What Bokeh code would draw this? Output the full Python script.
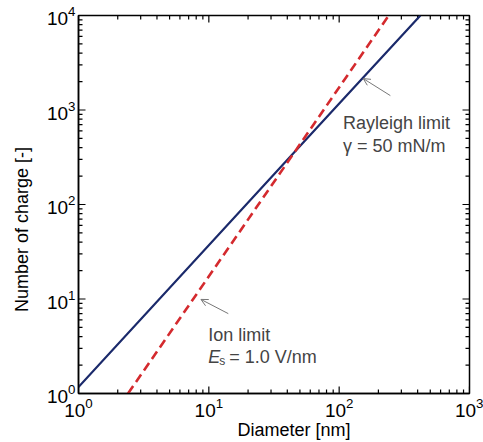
import math
from bokeh.plotting import figure
from bokeh.models import Arrow, OpenHead, Label, Range1d
from bokeh.embed import file_html
from bokeh.resources import INLINE

# ---- data ----
rayleigh_d = [1.0, 46.0, 420.0]        # diameter [nm]
rayleigh_q = [1.17, 365.0, 10000.0]    # number of charge
ion_d = [2.4, 46.0, 240.0]
ion_q = [1.0, 367.0, 10000.0]

x_limits = [1.0, 1000.0]
y_limits = [1.0, 10000.0]
x_major = [1, 10, 100, 1000]
y_major = [1, 10, 100, 1000, 10000]
x_minor = [k * d for d in x_major[:-1] for k in range(2, 10)]
y_minor = [k * d for d in y_major[:-1] for k in range(2, 10)]

x_title = "Diameter [nm]"
y_title = "Number of charge [-]"

FONT = "Liberation Sans"
FS = "18px"
TICK_FS = "19px"
NBSP = "\u00a0"

p = figure(width=483, height=442, x_axis_type="log", y_axis_type="log",
           x_range=Range1d(*x_limits), y_range=Range1d(*y_limits),
           output_backend="svg", toolbar_location=None,
           min_border_left=78, min_border_top=15, min_border_right=14,
           min_border_bottom=49)
p.xgrid.visible = False
p.ygrid.visible = False
p.outline_line_color = "black"
p.outline_line_width = 1.5

for ax in (p.xaxis[0], p.yaxis[0]):
    ax.axis_line_color = "black"
    ax.axis_line_width = 1.5
    ax.major_tick_in = 0
    ax.major_tick_out = 0
    ax.minor_tick_in = 0
    ax.minor_tick_out = 0
    ax.major_label_text_font = FONT
    ax.major_label_text_font_size = TICK_FS
    ax.major_label_text_color = "black"
    ax.axis_label_text_font = FONT
    ax.axis_label_text_font_size = FS
    ax.axis_label_text_font_style = "normal"
    ax.axis_label_text_color = "black"
p.yaxis[0].major_label_standoff = 3
p.xaxis[0].major_label_standoff = 4
# the reference's titles sit a little off-centre: pad with no-break spaces
p.xaxis[0].axis_label = NBSP * 8 + x_title
p.yaxis[0].axis_label = y_title + NBSP * 10
p.xaxis[0].axis_label_standoff = 0
p.yaxis[0].axis_label_standoff = 12

# inward ticks on all four sides (markers centred on the frame edge, clipped)
tick_kw = dict(marker="dash", line_color="black", line_width=1.2)
for xs, sz in ((x_major, 14), (x_minor, 8)):
    for yv in y_limits:
        p.scatter(xs, [yv] * len(xs), size=sz, angle=math.pi / 2, **tick_kw)
for ys, sz in ((y_major, 14), (y_minor, 8)):
    for xv in x_limits:
        p.scatter([xv] * len(ys), ys, size=sz, angle=0, **tick_kw)

p.line(rayleigh_d, rayleigh_q, line_color="#1b2a6b", line_width=2.2)
p.line(ion_d, ion_q, line_color="#d42a2e", line_width=2.6, line_dash="9 5")

arrow_col = "#777777"
p.add_layout(Arrow(end=OpenHead(size=7, line_color=arrow_col, line_width=1),
                   x_start=247, y_start=1420, x_end=153, y_end=2150,
                   line_color=arrow_col, line_width=1))
p.add_layout(Arrow(end=OpenHead(size=7, line_color=arrow_col, line_width=1),
                   x_start=14.1, y_start=7.0, x_end=8.7, y_end=9.9,
                   line_color=arrow_col, line_width=1))

p.add_layout(Label(x=107, y=724, text="Rayleigh  limit", text_font=FONT,
                   text_font_size=FS, text_baseline="alphabetic"))
p.add_layout(Label(x=107, y=421, text="\u03b3 = 50 mN/m", text_font=FONT,
                   text_font_size=FS, text_baseline="alphabetic"))

p.add_layout(Label(x=9.9, y=4.11, text="Ion limit", text_font=FONT,
                   text_font_size=FS, text_baseline="alphabetic"))
p.add_layout(Label(x=9.9, y=2.42, text="E", text_font=FONT,
                   text_font_size=FS, text_font_style="italic",
                   text_baseline="alphabetic"))
p.add_layout(Label(x=9.9, y=2.42, x_offset=11, y_offset=-4, text="s",
                   text_font=FONT, text_font_size="12px",
                   text_baseline="alphabetic"))
p.add_layout(Label(x=9.9, y=2.42, x_offset=21, text="= 1.0 V/nm",
                   text_font=FONT, text_font_size=FS,
                   text_baseline="alphabetic"))

open("out.html", "w").write(file_html(p, INLINE))
